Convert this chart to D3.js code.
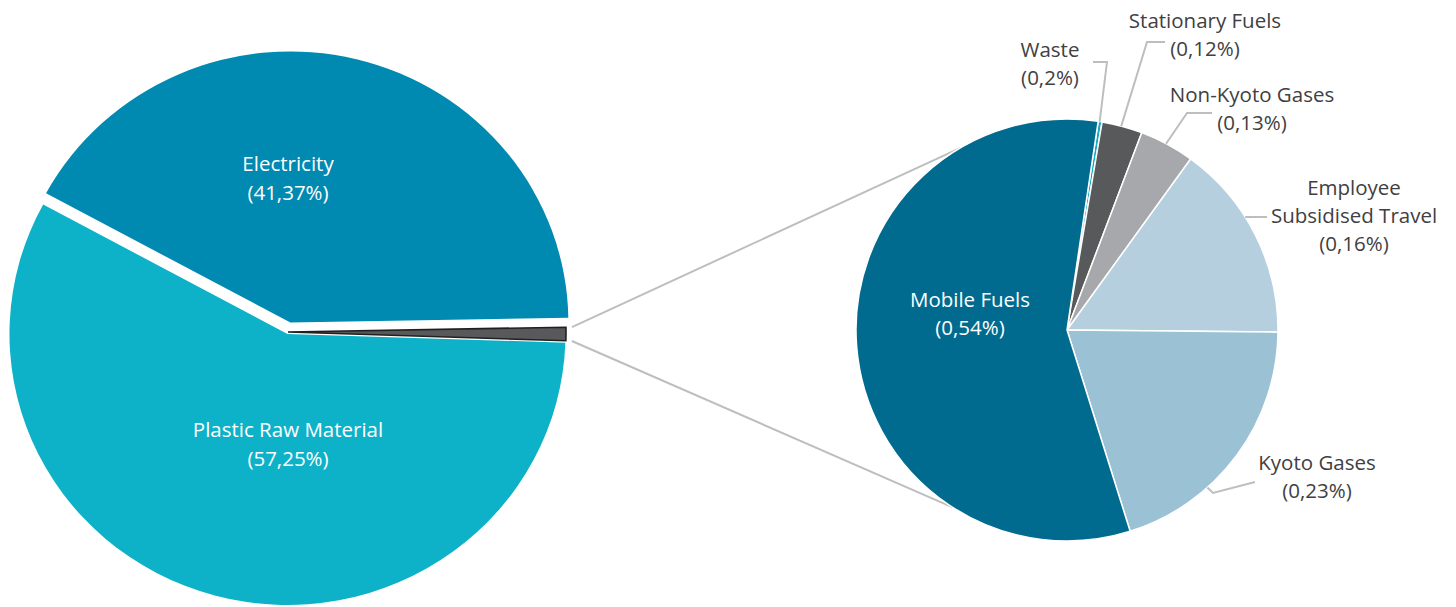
<!DOCTYPE html>
<html lang="en">
<head>
  <meta charset="UTF-8">
  <title>Emissions breakdown</title>
  <script src="https://d3js.org/d3.v7.min.js"></script>
  <style>
    body { margin: 0; background: #fff; }
    text { font-family: "Open Sans", sans-serif; font-size: 20.5px; }
  </style>
</head>
<body>
  <div id="chart"></div>
  <script>
    // main pie: share of the angle as drawn, plus the printed label
    const mainNames = ["Electricity", "Other", "Plastic Raw Material"];
    const mainShares = [41.8, 0.8, 57.4];
    const mainLabels = ["(41,37%)", "", "(57,25%)"];
    const mainColors = ["#0089b1", "#58595b", "#0db2c8"];

    // breakdown pie of the small slice
    const subNames = ["Waste", "Stationary Fuels", "Non-Kyoto Gases", "Employee Subsidised Travel", "Kyoto Gases", "Mobile Fuels"];
    const subShares = [0.3, 3.1, 4.2, 15.2, 20.0, 57.2];
    const subLabels = ["(0,2%)", "(0,12%)", "(0,13%)", "(0,16%)", "(0,23%)", "(0,54%)"];
    const subColors = ["#13abc4", "#58595b", "#a6a8ab", "#b6cfdf", "#9bc1d4", "#006b8e"];

    const width = 1456, height = 607;
    const deg = Math.PI / 180;
    const svg = d3.select("#chart").append("svg")
      .attr("width", width)
      .attr("height", height);

    // ---- main pie ----
    const L = { cx: 288, cy: 332, r: 278, sy: 0.975, start: -61.5 };
    const explode = { "Electricity": 10, "Other": 0, "Plastic Raw Material": 2 };

    const mainData = mainNames.map((n, i) => ({ name: n, share: mainShares[i], label: mainLabels[i], color: mainColors[i] }));
    const mainPie = d3.pie().sort(null).value(d => d.share)
      .startAngle(L.start * deg).endAngle(L.start * deg + 2 * Math.PI);
    const mainArcs = mainPie(mainData);
    const arcL = d3.arc().innerRadius(0).outerRadius(L.r);

    const gL = svg.append("g")
      .attr("transform", `translate(${L.cx},${L.cy}) scale(1,${L.sy})`);

    gL.selectAll("path")
      .data(mainArcs)
      .enter().append("path")
      .attr("d", arcL)
      .attr("fill", d => d.data.color)
      .attr("stroke", d => d.data.name === "Other" ? "#231f20" : "none")
      .attr("stroke-width", 1.6)
      .attr("transform", d => {
        const m = (d.startAngle + d.endAngle) / 2, o = explode[d.data.name];
        return `translate(${o * Math.sin(m)},${-o * Math.cos(m)})`;
      });

    const mainLabelPos = {
      "Electricity": [288, 171],
      "Plastic Raw Material": [288, 437]
    };
    mainArcs.filter(d => mainLabelPos[d.data.name]).forEach(d => {
      const [x, y] = mainLabelPos[d.data.name];
      const t = svg.append("text").attr("text-anchor", "middle").attr("fill", "#fff");
      t.append("tspan").attr("x", x).attr("y", y).text(d.data.name);
      t.append("tspan").attr("x", x).attr("y", y + 28.5).text(d.data.label);
    });

    // ---- breakdown pie ----
    const R = { cx: 1067, cy: 330, r: 211, start: 8.5 };
    const subData = subNames.map((n, i) => ({ name: n, share: subShares[i], label: subLabels[i], color: subColors[i] }));
    const subPie = d3.pie().sort(null).value(d => d.share)
      .startAngle(R.start * deg).endAngle(R.start * deg + 2 * Math.PI);
    const subArcs = subPie(subData);
    const arcR = d3.arc().innerRadius(0).outerRadius(R.r);

    // connector lines from the small slice to the breakdown pie
    const other = mainArcs.find(d => d.data.name === "Other");
    const fromPt = a => [L.cx + (L.r + 6) * Math.sin(a), L.cy - (L.r + 6) * Math.cos(a) * L.sy];
    const toPt = a => [R.cx + R.r * Math.sin(a * deg), R.cy - R.r * Math.cos(a * deg)];
    const connectors = [[fromPt(other.startAngle), toPt(329.7)], [fromPt(other.endAngle), toPt(212.8)]];
    svg.selectAll("line.conn")
      .data(connectors)
      .enter().append("line")
      .attr("class", "conn")
      .attr("x1", d => d[0][0]).attr("y1", d => d[0][1])
      .attr("x2", d => d[1][0]).attr("y2", d => d[1][1])
      .attr("stroke", "#bcbec0")
      .attr("stroke-width", 2);

    const gR = svg.append("g").attr("transform", `translate(${R.cx},${R.cy})`);
    gR.selectAll("path")
      .data(subArcs)
      .enter().append("path")
      .attr("d", arcR)
      .attr("fill", d => d.data.color)
      .attr("stroke", "#fff")
      .attr("stroke-width", 1.5);

    // label layout: text centre, first baseline, leader start angle and bends
    const subLayout = {
      "Waste": { x: 1050, y: 57, lines: ["Waste"], lead: [8.9, [1107, 62], [1093, 62]] },
      "Stationary Fuels": { x: 1205, y: 28, lines: ["Stationary Fuels"], lead: [14.9, [1147, 42], [1165, 42]] },
      "Non-Kyoto Gases": { x: 1252, y: 102, lines: ["Non-Kyoto Gases"], lead: [28, [1187, 113], [1212, 113]] },
      "Employee Subsidised Travel": { x: 1354, y: 195, lines: ["Employee", "Subsidised Travel"], lead: [57.6, [1267, 217]] },
      "Kyoto Gases": { x: 1317, y: 470, lines: ["Kyoto Gases"], lead: [138.3, [1213, 493], [1255, 482]] },
      "Mobile Fuels": { x: 970, y: 307, lines: ["Mobile Fuels"], inside: true }
    };

    subArcs.forEach(d => {
      const lay = subLayout[d.data.name];
      const t = svg.append("text")
        .attr("text-anchor", "middle")
        .attr("fill", lay.inside ? "#fff" : "#414042");
      lay.lines.concat([d.data.label]).forEach((s, i) => {
        t.append("tspan").attr("x", lay.x).attr("y", lay.y + i * 28).text(s);
      });
      if (lay.lead) {
        const pts = [toPt(lay.lead[0])].concat(lay.lead.slice(1));
        svg.append("path")
          .attr("d", d3.line()(pts))
          .attr("fill", "none")
          .attr("stroke", "#bcbec0")
          .attr("stroke-width", 2);
      }
    });
  </script>
</body>
</html>
